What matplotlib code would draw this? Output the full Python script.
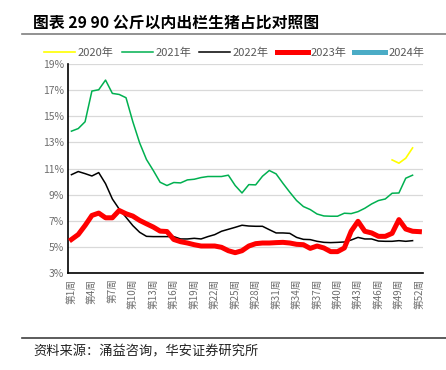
import numpy as np
import matplotlib
matplotlib.use('Agg')
import matplotlib.pyplot as plt
from matplotlib.lines import Line2D

plt.rcParams['font.family'] = ['Noto Sans CJK SC', 'DejaVu Sans']

weeks = np.arange(1, 53)
week_labels = ['第%d周' % w for w in weeks]

nan = np.nan
# 90公斤以内出栏生猪占比 (%)
y2020 = [nan] * 47 + [11.66, 11.41, 11.79, 12.58, nan]
y2021 = [13.86, 14.06, 14.58, 16.93, 17.03, 17.77, 16.75, 16.67, 16.42, 14.58,
         12.96, 11.69, 10.85, 9.95, 9.70, 9.93, 9.90, 10.13, 10.18, 10.31,
         10.39, 10.39, 10.39, 10.49, 9.70, 9.13, 9.77, 9.75, 10.41, 10.85,
         10.59, 9.87, 9.19, 8.55, 8.09, 7.86, 7.52, 7.37, 7.35, 7.35,
         7.58, 7.55, 7.70, 7.96, 8.29, 8.55, 8.67, 9.11, 9.13, 10.26,
         10.49, nan]
y2022 = [10.53, 10.77, 10.61, 10.43, 10.69, 9.84, 8.67, 7.90, 7.27, 6.63,
         6.12, 5.81, 5.79, 5.79, 5.79, 5.79, 5.61, 5.61, 5.66, 5.61,
         5.79, 5.94, 6.20, 6.35, 6.50, 6.66, 6.60, 6.58, 6.58, 6.32,
         6.07, 6.07, 6.04, 5.73, 5.58, 5.56, 5.43, 5.35, 5.33, 5.35,
         5.38, 5.53, 5.73, 5.61, 5.61, 5.45, 5.43, 5.43, 5.48, 5.43,
         5.48, nan]
y2023 = [5.57, 5.95, 6.64, 7.41, 7.59, 7.23, 7.23, 7.79, 7.54, 7.36,
         7.03, 6.77, 6.52, 6.21, 6.18, 5.57, 5.40, 5.30, 5.17, 5.07,
         5.07, 5.07, 4.97, 4.71, 4.56, 4.71, 5.07, 5.25, 5.30, 5.30,
         5.33, 5.35, 5.30, 5.20, 5.17, 4.89, 5.07, 4.92, 4.64, 4.64,
         4.92, 6.20, 6.96, 6.20, 6.07, 5.81, 5.81, 6.04, 7.09, 6.37,
         6.20, 6.17]
y2024 = [nan] * 52

series = [('2020年', y2020, '#FFFF00', 1.2),
          ('2021年', y2021, '#00B050', 1.1),
          ('2022年', y2022, '#000000', 1.1),
          ('2023年', y2023, '#FF0000', 3.6),
          ('2024年', y2024, '#4BACC6', 3.0)]

fig = plt.figure(figsize=(4.46, 3.70), dpi=100)
ax = fig.add_axes([0.1525, 0.262, 0.7955, 0.565])

handles = []
for name, vals, col, lw in series:
    ax.plot(weeks, vals, color=col, lw=lw, solid_joinstyle='round', zorder=3)
    handles.append(Line2D([], [], color=col, lw=lw if lw < 3 else 3.6, label=name))

ax.set_xlim(0.5, 52.5)
ax.set_ylim(3, 19)
ax.set_yticks(np.arange(3, 20, 2))
ax.set_yticklabels(['%d%%' % v for v in range(3, 20, 2)])
ax.set_xticks(weeks[::3])
ax.set_xticklabels(week_labels[::3], rotation=90)
ax.grid(axis='y', color='#D9D9D9', lw=0.9, zorder=0)
ax.tick_params(axis='both', length=0, colors='#6E6E6E', labelsize=7.5)
ax.tick_params(axis='x', pad=4, labelsize=7)
ax.tick_params(axis='y', pad=3)
for s in ['top', 'right']:
    ax.spines[s].set_visible(False)
for s in ['left', 'bottom']:
    ax.spines[s].set_color('#000000')
    ax.spines[s].set_linewidth(1.2)

fig.legend(handles=handles, loc='center', bbox_to_anchor=(0.525, 0.858), ncol=5,
           frameon=False, fontsize=8, labelcolor='#595959', handlelength=2.8,
           handletextpad=0.25, columnspacing=0.7, borderaxespad=0)

fig.text(0.074, 0.94, '图表 29 90 公斤以内出栏生猪占比对照图', fontsize=11.4,
         fontweight='bold', va='center', ha='left')
fig.add_artist(Line2D([0.05, 1.0], [0.908, 0.908], color='#7F7F7F', lw=1.2))
fig.add_artist(Line2D([0.05, 1.0], [0.087, 0.087], color='#404040', lw=1.2))
fig.text(0.075, 0.048, '资料来源：涌益咨询，华安证券研究所', fontsize=9.5,
         va='center', ha='left', color='#222222', fontweight='light')

fig.savefig('out.png', dpi=100)
